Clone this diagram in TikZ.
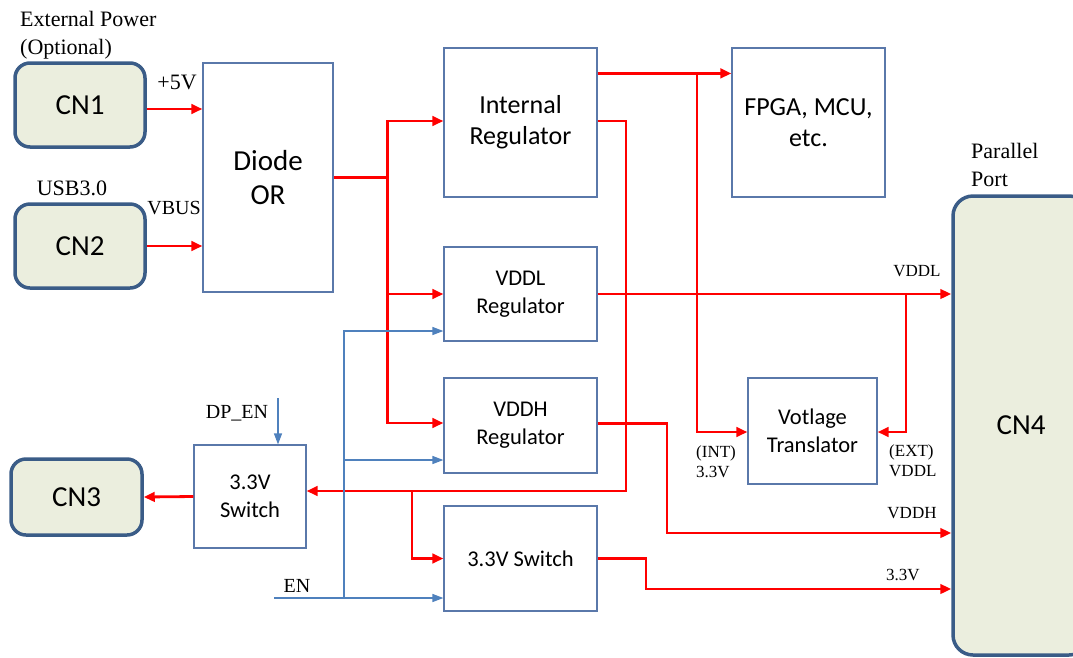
\documentclass[tikz,border=0pt]{standalone}
\usepackage{fontspec}
\setmainfont{Liberation Serif}
\newfontfamily\boxfont{Carlito}
\usepackage{xcolor}
\definecolor{ConnFill}{RGB}{235,238,222}
\definecolor{ConnLine}{RGB}{58,92,135}
\definecolor{BoxLine}{RGB}{90,120,170}
\definecolor{CtlBlue}{RGB}{79,129,189}
\definecolor{PwrRed}{RGB}{255,0,0}
\usetikzlibrary{positioning,arrows.meta,calc}

\begin{document}
\begin{tikzpicture}[x=1pt, y=-1pt,
    conn/.style={rectangle, draw=ConnLine, fill=ConnFill, line width=3.5pt,
                 rounded corners=15pt, align=center,
                 font=\boxfont\fontsize{29}{34}\selectfont},
    blk/.style={rectangle, draw=BoxLine, fill=white, line width=1.2pt,
                minimum width=153pt, align=center, inner sep=0pt,
                font=\boxfont\fontsize{22.5}{28}\selectfont},
    lbl/.style={inner sep=0pt, font=\fontsize{22}{28}\selectfont},
    slbl/.style={inner sep=0pt, font=\fontsize{17}{20}\selectfont},
    pwr/.style={-{Triangle[length=11pt,width=9.5pt]}, draw=PwrRed, line width=2.8pt},
    ctl/.style={-{Triangle[length=11pt,width=8pt]}, draw=CtlBlue, line width=1.3pt}
]
    \useasboundingbox (0,0) rectangle (1073,657);

    \node[conn, minimum width=130pt, minimum height=84pt] (cn1) at (80,105) {CN1};
    \node[conn, minimum width=130pt, minimum height=84pt] (cn2) at (80,246) {CN2};
    \node[conn, minimum width=131pt, minimum height=76pt] (cn3) at (76.5,497) {CN3};
    \node[conn, minimum width=136pt, minimum height=459pt, rounded corners=20pt] (cn4) at (1021,425.5) {CN4};

    \node[blk, minimum width=130pt, minimum height=229pt,
          font=\boxfont\fontsize{29}{34}\selectfont] (diode) at (268,177.5) {Diode\\OR};
    \node[blk, minimum height=149pt,
          font=\boxfont\fontsize{26}{31}\selectfont] (intreg) at (520.5,122.5) {Internal\\Regulator};
    \node[blk, minimum height=149pt,
          font=\boxfont\fontsize{26}{31}\selectfont] (fpga) at (808.5,122.5) {FPGA, MCU,\\etc.};
    \node[blk, minimum height=94pt] (vddlreg) at (520.5,294) {VDDL\\Regulator};
    \node[blk, minimum height=95pt] (vddhreg) at (520.5,425.5) {VDDH\\Regulator};
    \node[blk, minimum height=105pt] (sw) at (520.5,558.5) {3.3V Switch};
    \node[blk, minimum width=112pt, minimum height=103pt] (dpsw) at (250,496.5) {3.3V\\Switch};
    \node[blk, minimum width=129pt, minimum height=106pt] (vtrans) at (812.5,431) {Votlage\\Translator};

    \node[lbl, anchor=west, align=left] (extlbl) at (20,35) {External Power\\(Optional)};
    \node[lbl] (p5lbl) at (177,82) {+5V};
    \node[lbl] (usblbl) at (72,188) {USB3.0};
    \node[lbl, font=\fontsize{20}{24}\selectfont] (vbuslbl) at (174,208) {VBUS};
    \node[lbl, anchor=west, align=left] (pplbl) at (971,165) {Parallel\\Port};
    \node[slbl] (vddllbl) at (917,271) {VDDL};
    \node[slbl, anchor=west, align=left] (intlbl) at (696,462) {(INT)\\3.3V};
    \node[slbl, anchor=west, align=left] (extvlbl) at (889,461) {(EXT)\\VDDL};
    \node[slbl] (vddhlbl) at (912,513) {VDDH};
    \node[slbl] (v33lbl) at (903,575) {3.3V};
    \node[lbl, font=\fontsize{20}{24}\selectfont] (dpenlbl) at (237,413) {DP\_EN};
    \node[lbl, font=\fontsize{20}{24}\selectfont] (enlbl) at (297,586) {EN};

    \coordinate (bus) at ([xshift=54pt]diode.east);
    \coordinate (intj) at (697,74);
    \coordinate (swbus) at (626,491);
    \coordinate (swj) at (412,491);
    \coordinate (vddlj) at (906,294);
    \coordinate (vddhbend) at (667,533);
    \coordinate (swbend) at (646,589);
    \coordinate (dpen) at (278,398);
    \coordinate (en) at (274,598);
    \coordinate (enj) at (344,598);
    \coordinate (vddlen) at ([yshift=-37pt]vddlreg.west);
    \coordinate (vddhen) at ([yshift=-34.5pt]vddhreg.west);

    \draw[pwr] ([yshift=-4pt]cn1.east) -- ([yshift=-4pt]cn1.east -| diode.west);
    \draw[pwr] (cn2.east) -- (cn2.east -| diode.west);
    \draw[pwr] (diode.east) -- (bus) |- ([yshift=1.5pt]intreg.west);
    \draw[pwr] (bus) |- (vddlreg.west);
    \draw[pwr] (bus) |- ([yshift=2.5pt]vddhreg.west);
    \draw[pwr] ([yshift=-26pt]intreg.north east) -- ([yshift=-26pt]fpga.north west);
    \draw[pwr] (intj) |- ([yshift=-1pt]vtrans.west);
    \draw[pwr] ([yshift=1.5pt]intreg.east) -| (swbus) -- (swbus -| dpsw.east);
    \draw[pwr] (swj) |- (sw.west);
    \draw[pwr] (vddlreg.east) -- (vddlreg.east -| cn4.west);
    \draw[pwr] (vddlj) |- ([yshift=-1pt]vtrans.east);
    \draw[pwr] ([yshift=2pt]vddhreg.east) -| (vddhbend) -- (vddhbend -| cn4.west);
    \draw[pwr] (sw.east) -| (swbend) -- (swbend -| cn4.west);
    \draw[pwr] (dpsw.west) -- (cn3.east);

    \draw[ctl] (dpen) -- (dpen |- dpsw.north);
    \draw[ctl] (en) -- (en -| sw.west);
    \draw[ctl] (enj) |- (vddlen);
    \draw[ctl] (enj |- vddhen) -- (vddhen);
\end{tikzpicture}
\end{document}
